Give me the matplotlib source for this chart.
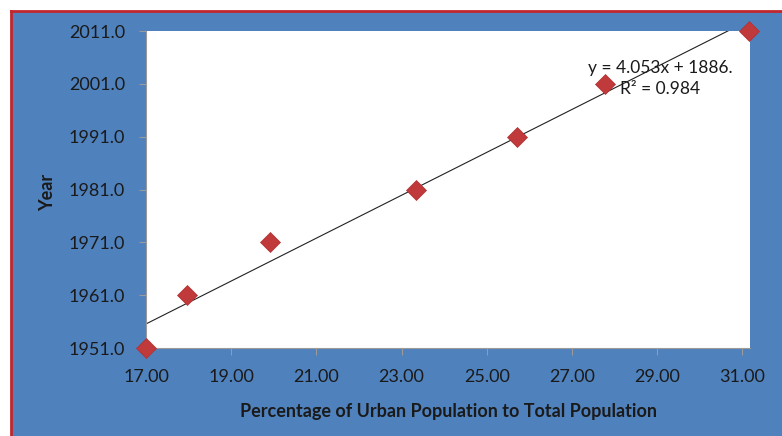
import numpy as np
import matplotlib
matplotlib.use("Agg")
import matplotlib.pyplot as plt
from matplotlib.patches import Rectangle
from matplotlib.lines import Line2D

# urban population share (%) vs census year
urban_pct = [17.0, 17.97, 19.91, 23.34, 25.72, 27.78, 31.16]
years = [1951, 1961, 1971, 1981, 1991, 2001, 2011]
x_ticks = [17, 19, 21, 23, 25, 27, 29, 31]
y_ticks = [1951, 1961, 1971, 1981, 1991, 2001, 2011]
eq_text = "y = 4.053x + 1886."
r2_text = "R\u00b2 = 0.984"

W, H = 782, 436
plt.rcParams['font.family'] = ['Lato', 'DejaVu Sans']

fig = plt.figure(figsize=(W / 100, H / 100), dpi=100, facecolor='white')

# blue chart background with the red frame on left / top
fig.patches.append(Rectangle((11 / W, 0), 1 - 11 / W, 1 - 11 / H,
                             transform=fig.transFigure, facecolor='#4F81BD',
                             edgecolor='none', zorder=-10))
fig.lines.append(Line2D([11 / W, 11 / W], [0, 1 - 11 / H], transform=fig.transFigure,
                        color='#C0272D', lw=2, zorder=-5))
fig.lines.append(Line2D([11 / W, 1], [1 - 11 / H, 1 - 11 / H], transform=fig.transFigure,
                        color='#C0272D', lw=2, zorder=-5))

ax = fig.add_axes([146 / W, 1 - 348 / H, (750 - 146) / W, (348 - 31) / H])
ax.set_facecolor('white')
ax.set_xlim(17, 31.18)
ax.set_ylim(1951, 2011)

# linear trendline
slope, icpt = np.polyfit(urban_pct, years, 1)
xs = np.array(ax.get_xlim())
ax.plot(xs, slope * xs + icpt, color='#222222', lw=0.8, zorder=2)

ax.plot(urban_pct, years, linestyle='none', marker='D', markersize=10,
        color='#C0393B', markeredgecolor='#B03030', markeredgewidth=0.5,
        clip_on=False, zorder=3)

ax.text(0.851, 0.883, eq_text, transform=ax.transAxes, ha='center', va='center',
        fontsize=12.5, color='#1a1a1a', zorder=4)
ax.text(0.851, 0.818, r2_text, transform=ax.transAxes, ha='center', va='center',
        fontsize=12.5, color='#1a1a1a', zorder=4)

ax.set_xticks(x_ticks)
ax.set_xticklabels(['%.2f' % v for v in x_ticks])
ax.set_yticks(y_ticks)
ax.set_yticklabels(['%.1f' % v for v in y_ticks])
ax.tick_params(axis='both', colors='#9a9a9a', labelcolor='#1a1a1a',
               labelsize=13, length=5, width=0.8, direction='out')
ax.tick_params(axis='x', pad=10)
ax.tick_params(axis='y', pad=10)

for side in ['top', 'right']:
    ax.spines[side].set_visible(False)
for side in ['left', 'bottom']:
    ax.spines[side].set_color('#9a9a9a')
    ax.spines[side].set_linewidth(0.8)

fig.text(448 / W, 1 - 411 / H, 'Percentage of Urban Population to Total Population',
         ha='center', va='center', fontsize=13, fontweight='bold', color='#1a1a1a')
fig.text(48 / W, 1 - 192 / H, 'Year', ha='center', va='center', rotation=90,
         fontsize=13, fontweight='bold', color='#1a1a1a')

fig.savefig('out.png', dpi=100, facecolor=fig.get_facecolor())
